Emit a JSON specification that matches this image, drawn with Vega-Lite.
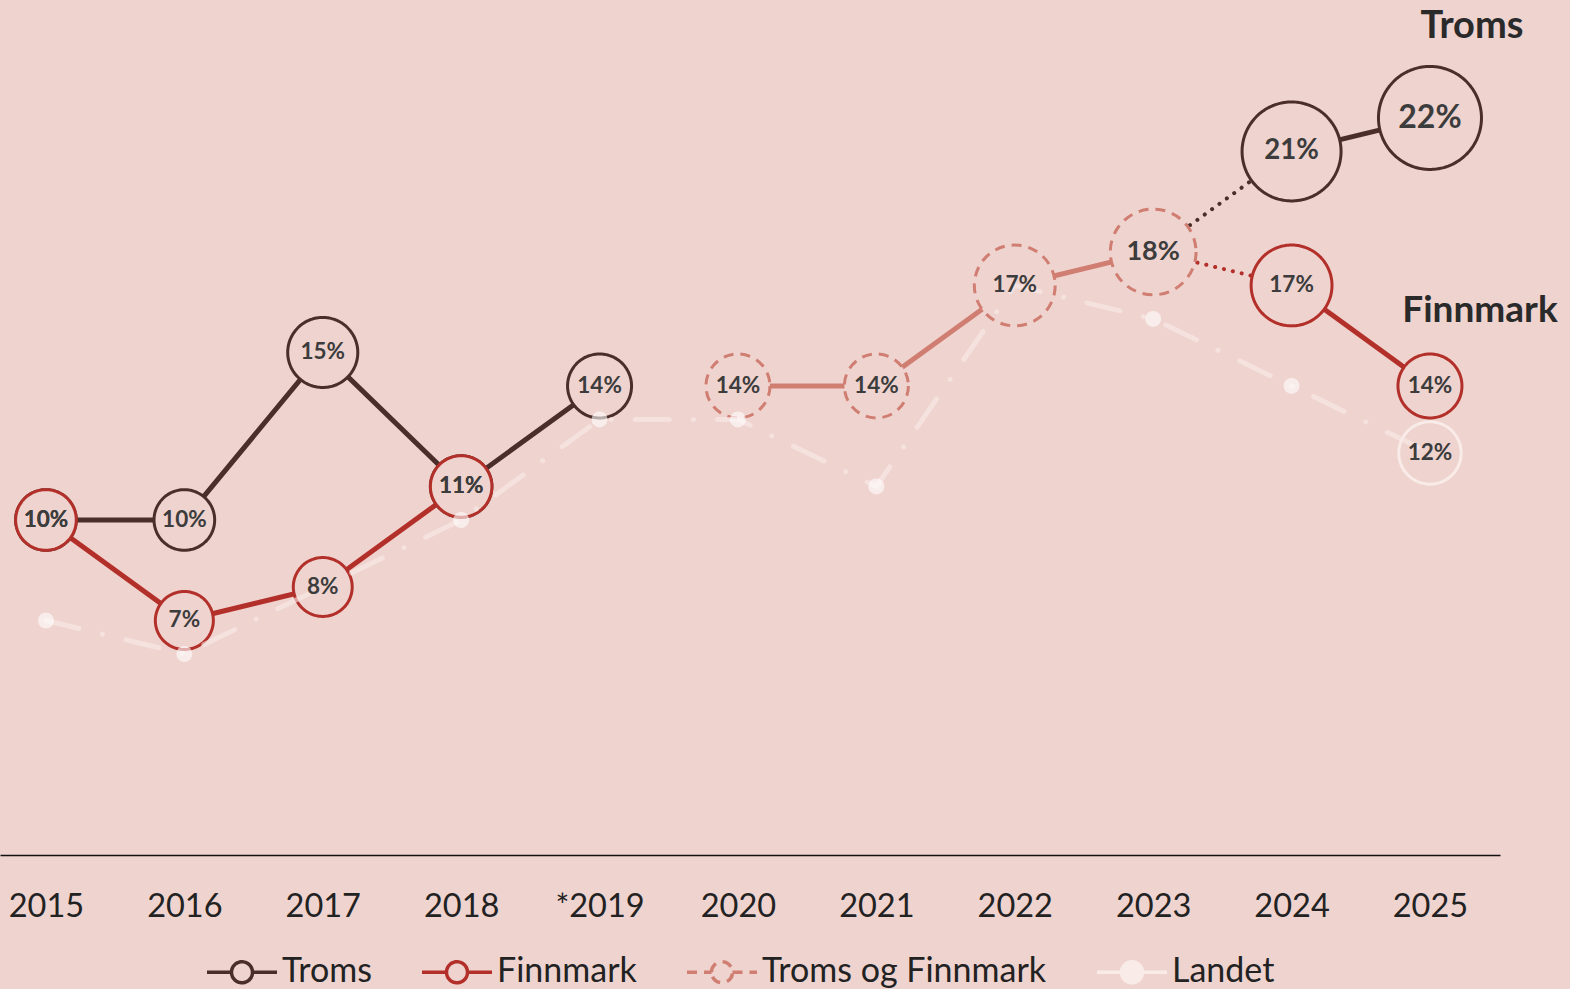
{
  "$schema": "https://vega.github.io/schema/vega-lite/v6.json",
  "width": 1500,
  "height": 855,
  "autosize": {"type": "none"},
  "padding": {"left": 0, "top": 0, "right": 70, "bottom": 134},
  "background": "#efd3cf",
  "config": {"view": {"stroke": null}, "font": "Lato"},
  "datasets": {
    "main": [
      {"year": 2015, "series": "Landet", "value": 0.07},
      {"year": 2016, "series": "Landet", "value": 0.06},
      {"year": 2017, "series": "Landet", "value": 0.08},
      {"year": 2018, "series": "Landet", "value": 0.10},
      {"year": 2019, "series": "Landet", "value": 0.13},
      {"year": 2020, "series": "Landet", "value": 0.13},
      {"year": 2021, "series": "Landet", "value": 0.11},
      {"year": 2022, "series": "Landet", "value": 0.17},
      {"year": 2023, "series": "Landet", "value": 0.16},
      {"year": 2024, "series": "Landet", "value": 0.14},
      {"year": 2025, "series": "Landet", "value": 0.12},
      {"year": 2015, "series": "Troms", "value": 0.10, "part": "a"},
      {"year": 2016, "series": "Troms", "value": 0.10, "part": "a"},
      {"year": 2017, "series": "Troms", "value": 0.15, "part": "a"},
      {"year": 2018, "series": "Troms", "value": 0.11, "part": "a"},
      {"year": 2019, "series": "Troms", "value": 0.14, "part": "a"},
      {"year": 2024, "series": "Troms", "value": 0.21, "part": "b"},
      {"year": 2025, "series": "Troms", "value": 0.22, "part": "b"},
      {"year": 2015, "series": "Finnmark", "value": 0.10, "part": "a"},
      {"year": 2016, "series": "Finnmark", "value": 0.07, "part": "a"},
      {"year": 2017, "series": "Finnmark", "value": 0.08, "part": "a"},
      {"year": 2018, "series": "Finnmark", "value": 0.11, "part": "a"},
      {"year": 2024, "series": "Finnmark", "value": 0.17, "part": "b"},
      {"year": 2025, "series": "Finnmark", "value": 0.14, "part": "b"},
      {"year": 2020, "series": "Troms og Finnmark", "value": 0.14, "part": "a"},
      {"year": 2021, "series": "Troms og Finnmark", "value": 0.14, "part": "a"},
      {"year": 2022, "series": "Troms og Finnmark", "value": 0.17, "part": "a"},
      {"year": 2023, "series": "Troms og Finnmark", "value": 0.18, "part": "a"}
    ],
    "links": [
      {"year": 2023, "series": "Troms", "value": 0.18},
      {"year": 2024, "series": "Troms", "value": 0.21},
      {"year": 2023, "series": "Finnmark", "value": 0.18},
      {"year": 2024, "series": "Finnmark", "value": 0.17}
    ]
  },
  "encoding": {
    "x": {
      "field": "year",
      "type": "quantitative",
      "scale": {"domain": [2014.668, 2025.506], "nice": false, "zero": false},
      "axis": {
        "title": null,
        "values": [2015, 2016, 2017, 2018, 2019, 2020, 2021, 2022, 2023, 2024, 2025],
        "format": "d",
        "labelExpr": "datum.value === 2019 ? '*2019\u2005\u2005' : datum.label",
        "grid": false,
        "ticks": false,
        "tickSize": 0,
        "domainColor": "#111111",
        "domainWidth": 1.5,
        "labelFont": "Lato",
        "labelFontSize": 32.5,
        "labelColor": "#222222",
        "labelBaseline": "middle",
        "labelPadding": 51,
        "labelFlush": false,
        "labelOverlap": false
      }
    },
    "y": {
      "field": "value",
      "type": "quantitative",
      "scale": {"domain": [0, 0.2552], "nice": false, "zero": true},
      "axis": null
    }
  },
  "resolve": {"scale": {"size": "independent"}},
  "layer": [
    {
      "data": {"name": "main"},
      "transform": [{"filter": "datum.series !== 'Landet'"}],
      "mark": {"type": "line", "strokeWidth": 5},
      "encoding": {
        "color": {
          "field": "series",
          "type": "nominal",
          "scale": {"domain": ["Troms", "Finnmark", "Troms og Finnmark", "Landet"], "range": ["#4b2e2a", "#b3302a", "#d07e72", "#f8ebe8"]},
          "legend": {
            "orient": "none",
            "legendX": 225,
            "legendY": 955,
            "direction": "horizontal",
            "title": null,
            "padding": 0,
            "symbolType": "M-2.5,0L-0.75,0M0.75,0L2.5,0M-0.75,0A0.75,0.75,0,1,1,0.75,0A0.75,0.75,0,1,1,-0.75,0",
            "symbolSize": 784,
            "symbolStrokeWidth": 3.5,
            "symbolOpacity": 1,
            "labelFont": "Lato",
            "labelFontSize": 34,
            "labelColor": "#222222",
            "labelOffset": 23,
            "labelLimit": 400,
            "columnPadding": 43,
            "encode": {
              "symbols": {
                "update": {
                  "fill": {"signal": "datum.value === 'Landet' ? '#f8ebe8' : '#efd3cf'"},
                  "fillOpacity": {"value": 1},
                  "strokeDash": {"signal": "datum.value === 'Troms og Finnmark' ? [6, 4] : []"}
                }
              }
            }
          }
        },
        "detail": {"field": "part"}
      }
    },
    {
      "data": {"name": "links"},
      "mark": {"type": "line", "strokeWidth": 4, "strokeDash": [0.1, 9], "strokeCap": "round"},
      "encoding": {
        "stroke": {
          "field": "series",
          "type": "nominal",
          "scale": {"domain": ["Troms", "Finnmark", "Troms og Finnmark", "Landet"], "range": ["#4b2e2a", "#b3302a", "#d07e72", "#f8ebe8"]},
          "legend": null
        }
      }
    },
    {
      "data": {"name": "main"},
      "transform": [{"filter": "datum.series !== 'Landet' || datum.year === 2025"}],
      "mark": {"type": "point", "shape": "circle", "filled": true, "fill": "#efd3cf", "strokeWidth": 3, "opacity": 1},
      "encoding": {
        "stroke": {
          "field": "series",
          "type": "nominal",
          "scale": {"domain": ["Troms", "Finnmark", "Troms og Finnmark", "Landet"], "range": ["#4b2e2a", "#b3302a", "#d07e72", "#f8ebe8"]},
          "legend": null
        },
        "strokeDash": {
          "field": "series",
          "type": "nominal",
          "scale": {"domain": ["Troms", "Finnmark", "Troms og Finnmark", "Landet"], "range": [[1, 0], [1, 0], [10, 7], [1, 0]]},
          "legend": null
        },
        "size": {
          "field": "value",
          "type": "quantitative",
          "scale": {"type": "linear", "domain": [0.07, 0.14, 0.22], "range": [3364, 4096, 10609], "clamp": true, "zero": false, "nice": false},
          "legend": null
        }
      }
    },
    {
      "data": {"name": "main"},
      "transform": [{"filter": "datum.series === 'Landet'"}],
      "mark": {"type": "line", "strokeWidth": 5, "strokeDash": [34, 24, 0.1, 24], "strokeCap": "round", "opacity": 0.6},
      "encoding": {
        "color": {
          "field": "series",
          "type": "nominal",
          "scale": {"domain": ["Troms", "Finnmark", "Troms og Finnmark", "Landet"], "range": ["#4b2e2a", "#b3302a", "#d07e72", "#f8ebe8"]}
        }
      }
    },
    {
      "data": {"name": "main"},
      "transform": [{"filter": "datum.series === 'Landet' && datum.year !== 2017 && datum.year !== 2022 && datum.year !== 2025"}],
      "mark": {"type": "point", "shape": "circle", "filled": true, "color": "#ffffff", "size": 256, "opacity": 0.6}
    },
    {
      "data": {"name": "main"},
      "transform": [{"filter": "datum.series !== 'Landet' || datum.year === 2025"}],
      "mark": {"type": "text", "font": "Lato", "fontWeight": "bold", "color": "#3c3c3c", "align": "center", "baseline": "middle"},
      "encoding": {
        "text": {"field": "value", "type": "quantitative", "format": ".0%"},
        "size": {
          "field": "value",
          "type": "quantitative",
          "scale": {"type": "linear", "domain": [0.17, 0.18, 0.21, 0.22], "range": [22.5, 27, 27.6, 32], "clamp": true, "zero": false, "nice": false},
          "legend": null
        }
      }
    },
    {
      "data": {"name": "main"},
      "transform": [{"filter": "datum.series === 'Troms' && datum.year === 2025"}],
      "mark": {"type": "text", "text": "Troms", "font": "Lato", "fontWeight": "bold", "fontSize": 38, "color": "#2a2a2a", "align": "center", "baseline": "middle", "dx": 42, "dy": -91}
    },
    {
      "data": {"name": "main"},
      "transform": [{"filter": "datum.series === 'Finnmark' && datum.year === 2025"}],
      "mark": {"type": "text", "text": "Finnmark", "font": "Lato", "fontWeight": "bold", "fontSize": 37, "color": "#2a2a2a", "align": "center", "baseline": "middle", "dx": 50, "dy": -75}
    }
  ]
}
